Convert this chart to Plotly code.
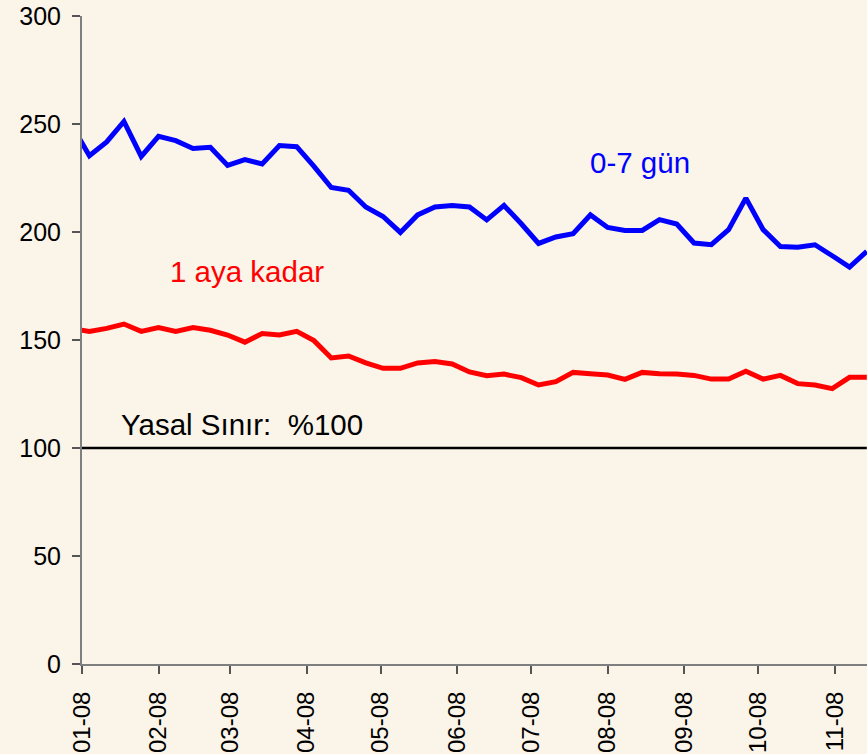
import datetime as dt
import plotly.graph_objects as go

# Weekly observation dates (Fridays), starting 28 Dec 2007
start = dt.date(2007, 12, 28)
dates = [start + dt.timedelta(days=7 * i) for i in range(47)]

gun_0_7 = [249, 235.3, 241.7, 251.2, 235.0, 244.3, 242.3, 238.7, 239.2, 230.8,
           233.5, 231.5, 240.0, 239.5, 230.4, 220.6, 219.3, 211.6, 207.2, 199.8,
           207.9, 211.6, 212.3, 211.6, 205.6, 212.3, 203.8, 194.7, 197.7, 199.2,
           207.9, 202.1, 200.7, 200.7, 205.7, 203.7, 194.9, 194.1, 201.1, 215.7,
           201.1, 193.3, 192.9, 194.1, 189.0, 183.8, 191.0]

aya_kadar = [155.2, 154.0, 155.4, 157.4, 154.0, 155.8, 154.0, 155.8, 154.5, 152.3,
             149.0, 153.0, 152.3, 154.0, 149.7, 141.7, 142.6, 139.4, 136.9, 136.9,
             139.4, 140.0, 138.9, 135.2, 133.5, 134.2, 132.6, 129.2, 130.7, 135.0,
             134.4, 133.8, 131.8, 135.0, 134.4, 134.3, 133.6, 131.9, 131.9, 135.5,
             131.9, 133.6, 129.8, 129.2, 127.5, 132.7, 132.7]

yasal_sinir = [100] * len(dates)

y_ticks = [0, 50, 100, 150, 200, 250, 300]

FONT = "Arial, 'Liberation Sans', sans-serif"
BG = "#FAF4E9"

fig = go.Figure()
fig.add_trace(go.Scatter(x=dates, y=yasal_sinir, mode="lines",
                         line=dict(color="#000000", width=2.5), name="Yasal Sınır"))
fig.add_trace(go.Scatter(x=dates, y=aya_kadar, mode="lines",
                         line=dict(color="#FF0000", width=5), name="1 aya kadar"))
fig.add_trace(go.Scatter(x=dates, y=gun_0_7, mode="lines",
                         line=dict(color="#0000FF", width=5), name="0-7 gün"))

fig.add_annotation(x="2008-08-14", y=232, text="0-7 gün", showarrow=False,
                   font=dict(color="#0000FF", size=29.5, family=FONT))
fig.add_annotation(x="2008-03-08", y=181.6, text="1 aya kadar", showarrow=False,
                   font=dict(color="#FF0000", size=29.5, family=FONT))
fig.add_annotation(x="2008-01-16", y=111, text="Yasal Sınır:  %100", showarrow=False,
                   xanchor="left", font=dict(color="#000000", size=29.5, family=FONT))

fig.update_layout(
    width=867, height=754,
    margin=dict(l=82, r=0, t=16, b=90, autoexpand=False),
    paper_bgcolor=BG, plot_bgcolor=BG,
    showlegend=False,
    font=dict(family=FONT, color="#000000", size=24),
)
fig.update_xaxes(
    type="date",
    range=["2008-01-01", "2008-11-14 02:00"],
    tick0="2008-01-01", dtick="M1", tickformat="%m-%y",
    tickangle=-90,
    automargin=False,
    showgrid=False, zeroline=False,
    showline=True, linecolor="#7F7F7F", linewidth=2,
    ticks="outside", ticklen=8, tickcolor="#555555", tickwidth=1.5,
    ticklabelstandoff=8,
    tickfont=dict(size=24, family=FONT, color="#000000"),
)
fig.update_yaxes(
    range=[0, 300], tickvals=y_ticks,
    automargin=False,
    showgrid=False, zeroline=False,
    showline=True, linecolor="#7F7F7F", linewidth=2,
    ticks="outside", ticklen=8, tickcolor="#555555", tickwidth=1.5,
    ticklabelstandoff=6,
    tickfont=dict(size=25, family=FONT, color="#000000"),
)

fig.write_html(
    "out.html",
    config={"displayModeBar": False},
    post_script="document.body.style.margin='0';"
                "document.body.style.background='" + BG + "';",
)
